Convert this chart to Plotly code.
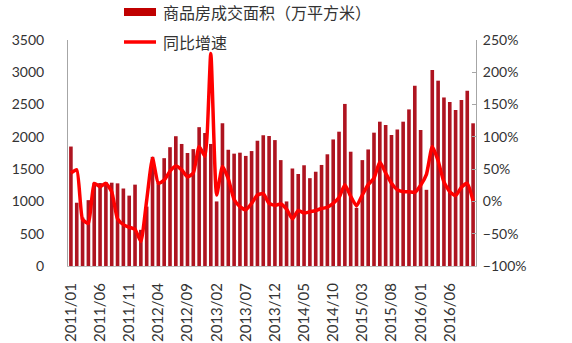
import plotly.graph_objects as go

months = [f"{y}/{m:02d}" for y in range(2011, 2017) for m in range(1, 13)][:70]

area = [1850, 980, 750, 1020, 1290, 1285, 1300, 1290, 1280, 1200, 1090, 1260,
        560, 920, 1690, 1290, 1670, 1840, 2010, 1890, 1750, 1810, 2150, 2060,
        1890, 1000, 2210, 1800, 1740, 1755, 1705, 1780, 1940, 2025, 2013, 1950,
        1640, 1000, 1510, 1425, 1560, 1360, 1460, 1565, 1730, 1960, 2080, 2510,
        1770, 900, 1640, 1805, 2065, 2235, 2185, 2030, 2115, 2235, 2425, 2790,
        2105, 1180, 3035, 2870, 2610, 2540, 2415, 2570, 2715, 2210]

yoy = [44, 49, -28, -34, 28, 23, 28, 15, -27, -36, -40, -43,
       -62, 2, 67, 28, 33, 47, 55, 49, 38, 44, 85, 70,
       229, 10, 54, 35, 3, -8, -13, -3, 10, 12, -3, -6,
       -4, -12, -27, -14, -18, -16, -14, -11, -9, -3, 6, 26,
       8, -7, 10, 26, 36, 61, 44, 28, 18, 15, 15, 14,
       25, 42, 85, 63, 30, 15, 9, 22, 28, 1]

tick_labels = months[::5]
series_names = ["商品房成交面积（万平方米）", "同比增速"]

BAR_COLOR = "#AE1420"
LINE_COLOR = "#FF0000"

fig = go.Figure()
fig.add_trace(go.Bar(
    x=months, y=area, name=series_names[0],
    marker=dict(color=BAR_COLOR, line=dict(width=0)),
))
fig.add_trace(go.Scatter(
    x=months, y=yoy, name=series_names[1], yaxis="y2", mode="lines",
    line=dict(color=LINE_COLOR, width=3.5, shape="spline", smoothing=0.5),
))

tickfont = dict(family="Lato, 'Open Sans', sans-serif", size=14, color="#333333")
legfont = dict(family="'Noto Sans CJK SC', sans-serif", size=16, color="#333333")

# plot area: x 68..476 px, y 40..266 px
W = 408.0
H = 226.0
def px_x(p):
    return (p - 68) / W
def px_y(p):
    return (266 - p) / H

shapes = [
    dict(type="rect", xref="paper", yref="paper",
         x0=px_x(124), x1=px_x(156), y0=px_y(16), y1=px_y(8),
         fillcolor="#C00000", line=dict(width=0)),
    dict(type="line", xref="paper", yref="paper",
         x0=px_x(124), x1=px_x(156), y0=px_y(42), y1=px_y(42),
         line=dict(color=LINE_COLOR, width=3.5)),
]
annotations = [
    dict(xref="paper", yref="paper", x=px_x(161), y=px_y(12), text=series_names[0],
         showarrow=False, xanchor="left", yanchor="middle", font=legfont),
    dict(xref="paper", yref="paper", x=px_x(161), y=px_y(42), text=series_names[1],
         showarrow=False, xanchor="left", yanchor="middle", font=legfont),
]

fig.update_layout(
    width=572, height=343,
    margin=dict(l=68, r=96, t=40, b=77, autoexpand=False),
    paper_bgcolor="white", plot_bgcolor="white",
    bargap=0.38,
    showlegend=False,
    shapes=shapes,
    annotations=annotations,
    xaxis=dict(
        type="category", tickmode="array", tickvals=tick_labels, ticktext=tick_labels,
        tickangle=-90, tickfont=dict(tickfont, size=15), showgrid=False,
        showline=True, linecolor="#BFBFBF", linewidth=1, ticks="",
        ticklabelstandoff=10,
    ),
    yaxis=dict(
        range=[0, 3500], dtick=500, tickfont=tickfont, showgrid=False,
        showline=True, linecolor="#A6A6A6", linewidth=1, ticks="", zeroline=False,
        ticklabelstandoff=20,
    ),
    yaxis2=dict(
        overlaying="y", side="right", range=[-100, 250], dtick=50, ticksuffix="%",
        tickfont=tickfont, showgrid=False, zeroline=False,
        showline=True, linecolor="#A6A6A6", linewidth=1,
        ticks="inside", ticklen=4, tickcolor="#A6A6A6",
        ticklabelstandoff=3,
    ),
)

fig.write_html("out.html")
